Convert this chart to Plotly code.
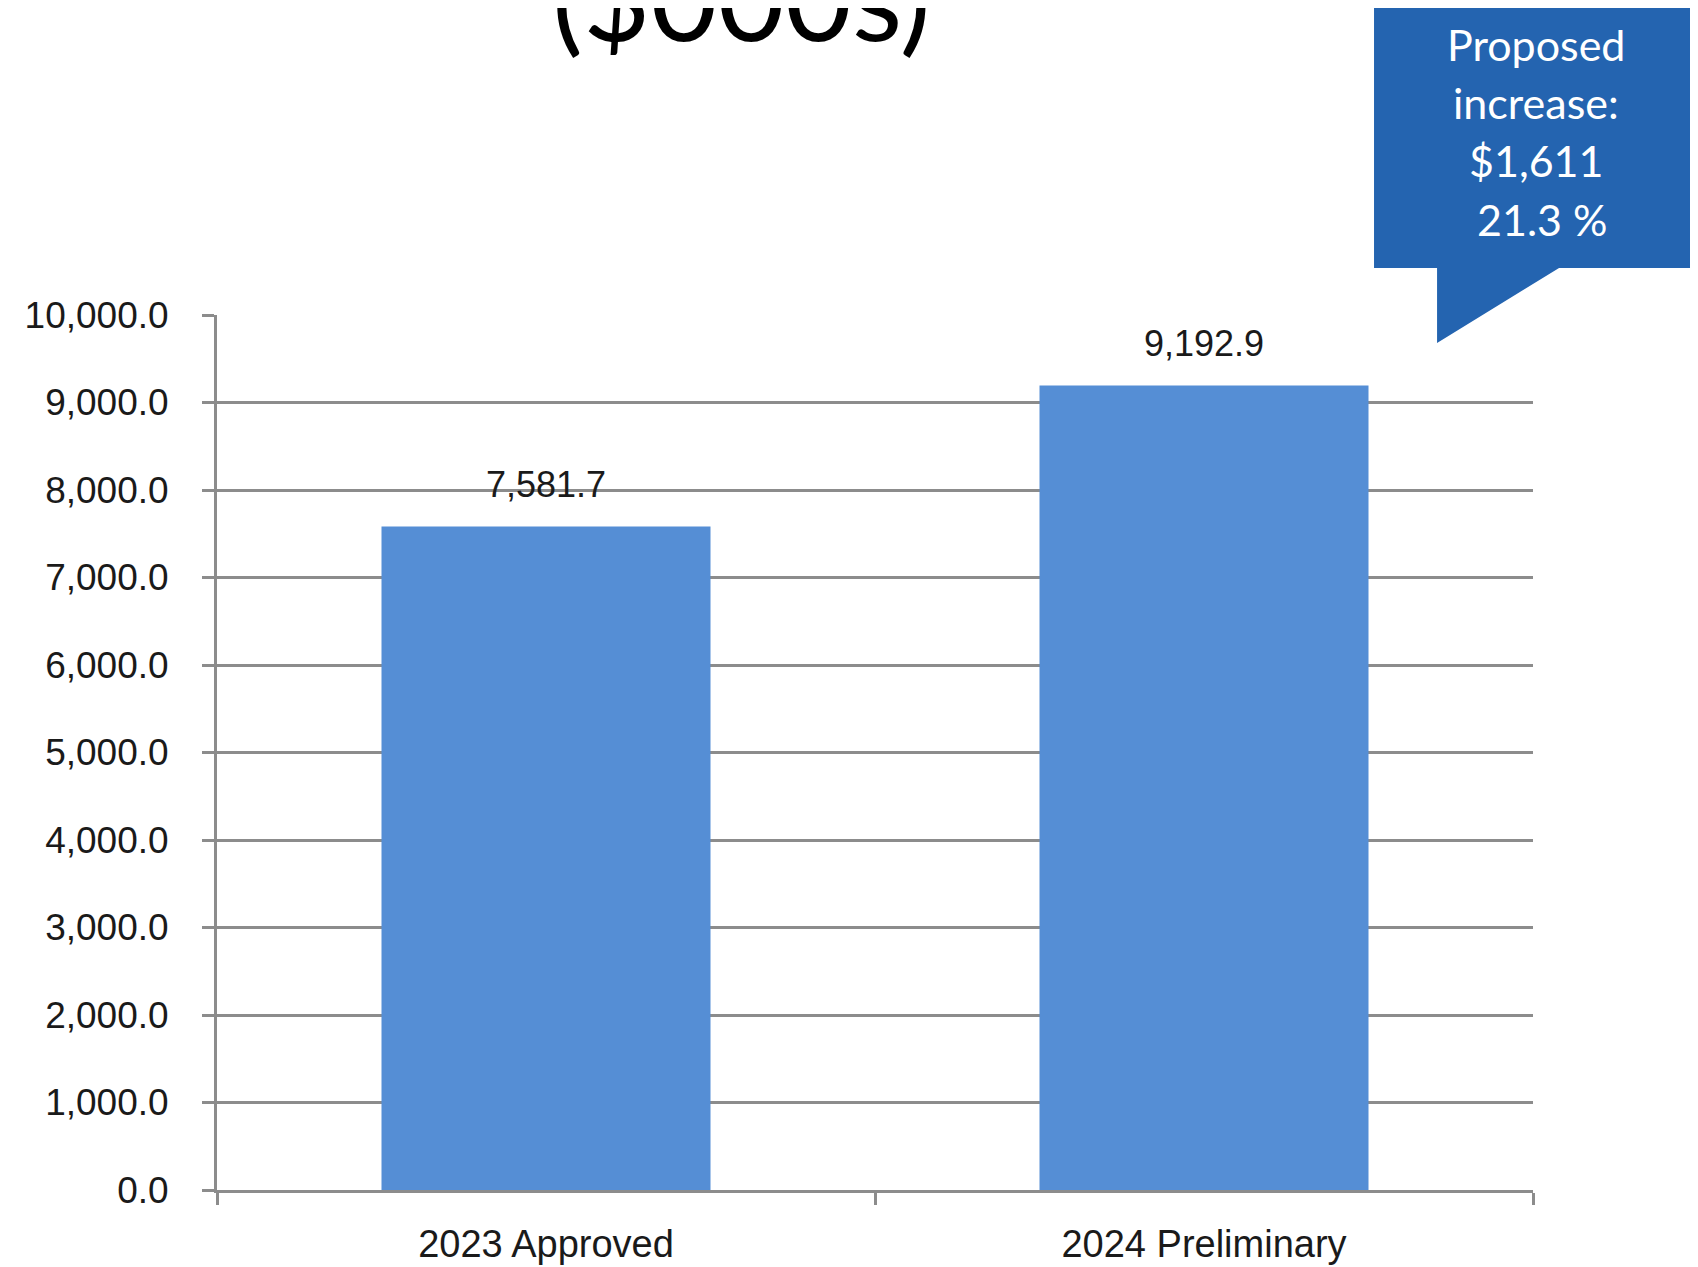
import plotly.graph_objects as go

# data
categories = ["2023 Approved", "2024 Preliminary"]
values = [7581.7, 9192.9]
y_ticks = [0, 1000, 2000, 3000, 4000, 5000, 6000, 7000, 8000, 9000, 10000]
callout_lines = ["Proposed", "increase:", "$1,611", "\u00a021.3 %"]
title_text = "($000s)"

OFF = 8  # default body margin of the html page
W, H = 1690, 1259
L, R, T, B = 209, 165, 307, 77
GREY = "#8c8c8c"
BAR = "#558ed5"
CALLOUT = "#2464b0"


def px(x, y):
    # screen pixel position -> paper coordinates
    return (x - OFF - L) / (W - L - R), (H + OFF - B - y) / (H - T - B)


fig = go.Figure(go.Bar(
    x=categories, y=values,
    marker=dict(color=BAR, line=dict(width=0)),
    width=0.5,
))

# value labels above the bars
for c, v in zip(categories, values):
    fig.add_annotation(
        x=c, y=v, text=f"{v:,.1f}", showarrow=False,
        yanchor="bottom", yshift=20,
        font=dict(family="Liberation Sans", size=36, color="#1a1a1a"),
    )

# callout box with tail
pts = [px(1374, 7), px(1720, 7), px(1720, 268), px(1559, 268),
       px(1437, 343), px(1437, 268), px(1374, 268)]
path = "M " + " L ".join(f"{a:.4f},{b:.4f}" for a, b in pts) + " Z"
fig.add_shape(type="path", path=path, xref="paper", yref="paper",
              fillcolor=CALLOUT, line=dict(width=0), layer="above")

# callout text, one line at a time for the looser line spacing
for line, ypix in zip(callout_lines, [44, 102, 160, 219]):
    cx, cy = px(1536, ypix)
    fig.add_annotation(
        x=cx, y=cy, xref="paper", yref="paper", showarrow=False,
        text=line, xanchor="center", yanchor="middle",
        font=dict(family="Lato", size=43, color="white"),
    )

# title, mostly cut off at the top
tx, ty = px(741, -4)
fig.add_annotation(
    x=tx, y=ty, xref="paper", yref="paper", showarrow=False,
    text=title_text, xanchor="center", yanchor="middle",
    font=dict(family="Lato", size=116, color="black"),
)

fig.update_layout(
    width=W, height=H,
    margin=dict(l=L, r=R, t=T, b=B),
    plot_bgcolor="white", paper_bgcolor="white",
    showlegend=False,
    bargap=0.5,
)
fig.update_yaxes(
    range=[0, 10000], tickvals=y_ticks, tickformat=",.1f",
    showgrid=True, gridcolor=GREY, gridwidth=3,
    showline=True, linecolor=GREY, linewidth=3,
    ticks="outside", ticklen=12, tickwidth=3, tickcolor=GREY,
    ticklabelstandoff=26, zeroline=False, automargin=False,
    tickfont=dict(family="Liberation Sans", size=37, color="#1a1a1a"),
)
fig.update_xaxes(
    showline=True, linecolor=GREY, linewidth=3,
    ticks="outside", tickson="boundaries", ticklen=12, tickwidth=3, tickcolor=GREY,
    ticklabelstandoff=18, automargin=False,
    tickfont=dict(family="Liberation Sans", size=38, color="#1a1a1a"),
)

fig.write_html("out.html")
